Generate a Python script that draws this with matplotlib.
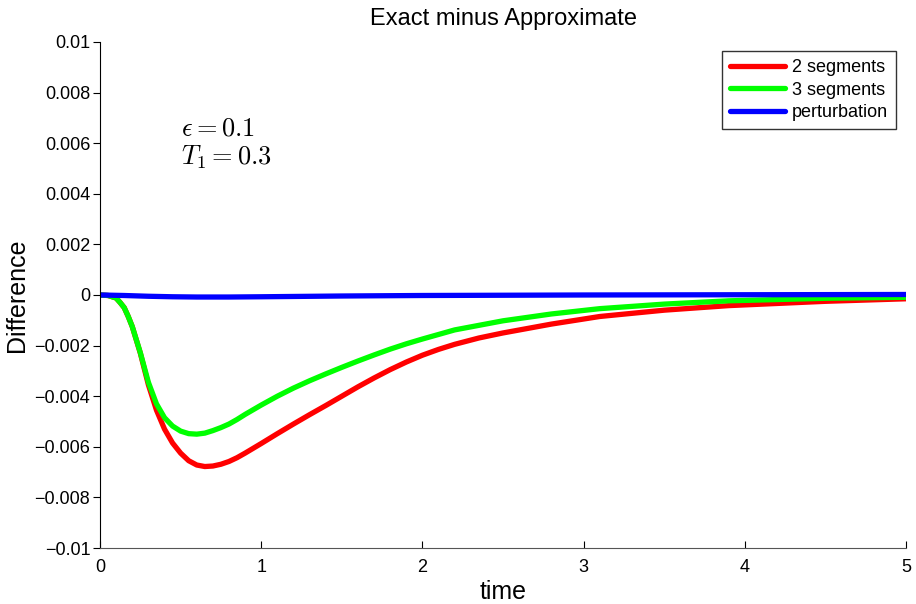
import matplotlib
matplotlib.use("Agg")
import matplotlib.pyplot as plt

# values (difference)
t_red = [0, 0.05, 0.1, 0.125, 0.15, 0.175, 0.2, 0.25, 0.3, 0.35, 0.4, 0.45,
         0.5, 0.55, 0.6, 0.65, 0.7, 0.75, 0.8, 0.85, 0.9, 1.0, 1.1, 1.2, 1.3,
         1.4, 1.5, 1.6, 1.7, 1.8, 1.9, 2.0, 2.1, 2.2, 2.35, 2.5, 2.8, 3.1,
         3.5, 3.9, 4.5, 5.0]
red = [0, -0.00002, -0.00012, -0.0003, -0.0005, -0.00085, -0.00125, -0.0023,
       -0.00355, -0.00455, -0.0053, -0.00585, -0.00625, -0.00655, -0.00672,
       -0.00678, -0.00676, -0.00669, -0.00658, -0.00643, -0.00625, -0.00587,
       -0.00548, -0.0051, -0.00473, -0.00437, -0.004, -0.00363, -0.00328,
       -0.00295, -0.00265, -0.00238, -0.00215, -0.00195, -0.0017, -0.0015,
       -0.00115, -0.00085, -0.0006, -0.00042, -0.00025, -0.00015]

t_green = [0, 0.05, 0.1, 0.125, 0.15, 0.175, 0.2, 0.25, 0.3, 0.35, 0.4, 0.45,
           0.5, 0.55, 0.6, 0.65, 0.7, 0.75, 0.8, 0.85, 0.9, 1.0, 1.1, 1.2,
           1.3, 1.4, 1.5, 1.6, 1.7, 1.8, 1.9, 2.0, 2.2, 2.5, 2.8, 3.1, 3.5,
           3.9, 4.5, 5.0]
green = [0, -0.00002, -0.00012, -0.0003, -0.0005, -0.00085, -0.00125,
         -0.00228, -0.00345, -0.0043, -0.00485, -0.00518, -0.00538, -0.00548,
         -0.0055, -0.00546, -0.00536, -0.00524, -0.0051, -0.00492, -0.00472,
         -0.00435, -0.004, -0.00368, -0.00339, -0.00312, -0.00286, -0.00261,
         -0.00237, -0.00214, -0.00193, -0.00174, -0.00138, -0.00102,
         -0.00075, -0.00054, -0.00036, -0.00023, -0.00013, -0.00009]

t_blue = [0, 0.15, 0.3, 0.45, 0.6, 0.8, 1.0, 1.5, 2.0, 3.0, 4.0, 5.0]
blue = [0, -0.00002, -0.00005, -0.00007, -0.00008, -0.00008, -0.00007,
        -0.00004, -0.00002, 0.0, 0.00001, 0.00002]

labels = ["2 segments", "3 segments", "perturbation"]
y_ticks = [0.01, 0.008, 0.006, 0.004, 0.002, 0, -0.002, -0.004, -0.006,
           -0.008, -0.01]
y_tick_labels = ["0.01", "0.008", "0.006", "0.004", "0.002", "0",
                 "\u22120.002", "\u22120.004", "\u22120.006", "\u22120.008",
                 "\u22120.01"]
x_ticks = [0, 1, 2, 3, 4, 5]

plt.rcParams['font.family'] = ['Liberation Sans', 'DejaVu Sans']
plt.rcParams['mathtext.fontset'] = 'cm'

fig = plt.figure(figsize=(9.16, 6.04), dpi=100)
ax = fig.add_axes([0.1092, 0.0927, 0.8799, 0.8378])

lw = 3.8
style = dict(lw=lw, solid_joinstyle='round', solid_capstyle='round')
ax.plot(t_red, red, color='#ff0000', label=labels[0], **style)
ax.plot(t_green, green, color='#00ff00', label=labels[1], **style)
ax.plot(t_blue, blue, color='#0000ff', label=labels[2], **style)

ax.set_xlim(0, 5)
ax.set_ylim(-0.01, 0.01)
ax.set_xticks(x_ticks)
ax.set_xticklabels([str(v) for v in x_ticks])
ax.set_yticks(y_ticks)
ax.set_yticklabels(y_tick_labels)
ax.tick_params(axis='both', labelsize=13)
ax.tick_params(axis='x', direction='in', length=5, pad=8)
ax.tick_params(axis='y', direction='out', length=5, pad=2)

for side in ['top', 'right']:
    ax.spines[side].set_visible(False)
ax.spines['bottom'].set_color('#555555')

ax.set_title('Exact minus Approximate', fontsize=17, pad=12)
ax.set_xlabel('time', fontsize=18, labelpad=3)
ax.set_ylabel('Difference', fontsize=18, labelpad=4)

ax.text(0.5, 0.0066, r'$\epsilon = 0.1$', fontsize=19, va='center')
ax.text(0.5, 0.00545, r'$T_1 = 0.3$', fontsize=19, va='center')

leg = ax.legend(loc='upper right', fontsize=13, frameon=True, fancybox=False,
                edgecolor='black', handlelength=3.0, borderpad=0.45,
                labelspacing=0.3, handletextpad=0.4, borderaxespad=0,
                bbox_to_anchor=(0.9876, 0.982))
leg.get_frame().set_linewidth(1.0)

fig.savefig('out.png', dpi=100)
